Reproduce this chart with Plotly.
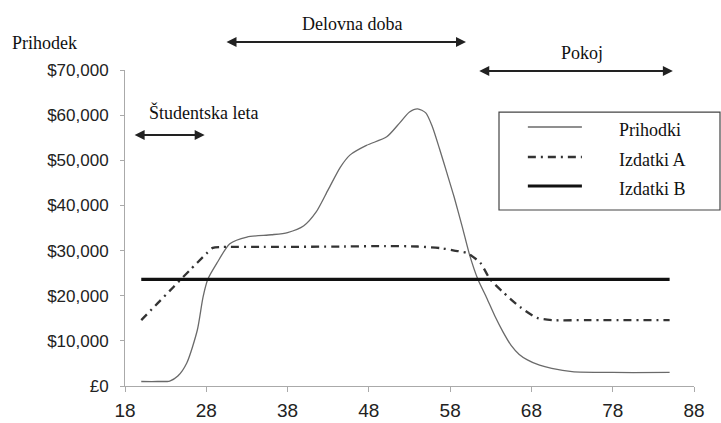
import plotly.graph_objects as go

# ---- data ----
inc_age = [20, 22, 23.5, 24.5, 25.6, 26.9, 27.6, 28.2, 29.3, 30.9, 33, 36, 38, 40, 41.5,
           43, 44.5, 45.7, 47.7, 50.2, 51.8, 53, 54, 55, 55.8, 56.7, 57.6, 58.5, 59.5,
           60.4, 61.4, 62.5, 63.5, 64.5, 65.5, 66.5, 67.5, 69, 70.5, 73, 78, 85]
inc_val = [1000, 1000, 1100, 2200, 5100, 12400, 19700, 23700, 27200, 31500, 33000, 33500,
           34000, 35500, 38500, 43500, 48500, 51200, 53300, 55200, 58300, 60700, 61400,
           60500, 57500, 52500, 47200, 41800, 35200, 29000, 23700, 19500, 15500, 12000,
           9000, 7000, 5800, 4600, 3900, 3200, 3000, 3000]

expA_age = [20, 22, 24, 26, 28, 28.8, 30, 35, 45, 50, 54, 57, 58.5, 60, 61.7, 62.9, 64.5,
            66.6, 68.7, 70.6, 75, 85]
expA_val = [14600, 18300, 22000, 25700, 29300, 30600, 30800, 30800, 30900, 31000, 30900,
            30500, 30000, 29500, 27300, 23700, 20800, 17500, 15100, 14600, 14600, 14600]

expB_age = [20, 85]
expB_val = [23600, 23600]

series_names = ["Prihodki", "Izdatki A", "Izdatki B"]

x_ticks = [18, 28, 38, 48, 58, 68, 78, 88]
y_ticks = [0, 10000, 20000, 30000, 40000, 50000, 60000, 70000]
y_tick_text = ["£0", "$10,000", "$20,000", "$30,000", "$40,000", "$50,000", "$60,000", "$70,000"]

phases = [  # label, start age, end age, label centre age
    ("Študentska leta", 19.0, 27.8, 27.6),
    ("Delovna doba", 30.3, 59.95, 45.9),
    ("Pokoj", 61.4, 85.4, 74.2),
]

# ---- styles ----
styles = [
    dict(color="#6a6a6a", width=1.3, dash="solid"),
    dict(color="#333333", width=2.3, dash="8px,5px,2px,5px"),
    dict(color="#111111", width=3.2, dash="solid"),
]
serif = "Liberation Serif, Times New Roman, serif"
sans = "Liberation Sans, Arial, sans-serif"

fig = go.Figure()
for (ax_, vy), name, st in zip([(inc_age, inc_val), (expA_age, expA_val), (expB_age, expB_val)],
                               series_names, styles):
    fig.add_trace(go.Scatter(x=ax_, y=vy, mode="lines", name=name,
                             line=dict(color=st["color"], width=st["width"], dash=st["dash"],
                                       shape="spline", smoothing=0.7),
                             showlegend=False, hoverinfo="skip"))

fig.update_layout(
    width=721, height=423,
    margin=dict(l=125, r=27, t=70, b=37),
    paper_bgcolor="white", plot_bgcolor="white",
    font=dict(family=sans, color="#222"),
    xaxis=dict(range=[18, 88], tickvals=x_ticks, ticktext=[str(v) for v in x_ticks],
               showgrid=False, zeroline=False, showline=True, linecolor="#aaaaaa", linewidth=1,
               ticks="outside", ticklen=5, tickcolor="#aaaaaa", automargin=False,
               tickfont=dict(family=sans, size=19, color="#222"), ticklabelstandoff=2),
    yaxis=dict(range=[0, 70000], tickvals=y_ticks, ticktext=y_tick_text,
               showgrid=False, zeroline=False, showline=True, linecolor="#aaaaaa", linewidth=1,
               ticks="outside", ticklen=4, tickcolor="#aaaaaa", automargin=False,
               tickfont=dict(family=sans, size=17, color="#222"), ticklabelstandoff=8),
)

# phase labels and double arrows
label_pos = {"Študentska leta": (0.867, 0.794), "Delovna doba": (1.146, 1.089), "Pokoj": (1.054, 0.997)}
for label, a0, a1, cx in phases:
    ty, ay_ = label_pos[label]
    fig.add_annotation(x=cx, y=ty, xref="x", yref="paper", text=label, showarrow=False,
                       font=dict(family=serif, size=18, color="#111"), yanchor="middle")
    fig.add_annotation(x=a1, y=ay_, xref="x", yref="paper", ax=a0, ay=0, axref="x", ayref="pixel",
                       text="", showarrow=True, arrowhead=2, arrowside="end+start",
                       arrowsize=1.0, arrowwidth=2, arrowcolor="#222", standoff=0, startstandoff=0)

fig.add_annotation(x=-0.202, y=1.085, xref="paper", yref="paper", text="Prihodek",
                   showarrow=False, xanchor="left", yanchor="middle",
                   font=dict(family=serif, size=18, color="#111"))

# manual legend
fig.add_shape(type="rect", xref="paper", yref="paper", x0=0.6573, x1=1.0457, y0=0.557, y1=0.867,
              line=dict(color="#444", width=1.2), fillcolor="white", layer="above")
leg_y = [0.8196, 0.7247, 0.6329]
txt_y = [0.809, 0.716, 0.624]
for name, st, ly, tyy in zip(series_names, styles, leg_y, txt_y):
    fig.add_shape(type="line", xref="paper", yref="paper", x0=0.708, x1=0.803, y0=ly, y1=ly,
                  line=dict(color=st["color"], width=st["width"], dash=st["dash"]), layer="above")
    fig.add_annotation(x=0.8647, y=tyy, xref="paper", yref="paper", text=name, showarrow=False,
                       xanchor="left", yanchor="middle", font=dict(family=serif, size=18, color="#111"))

fig.write_html("out.html")
